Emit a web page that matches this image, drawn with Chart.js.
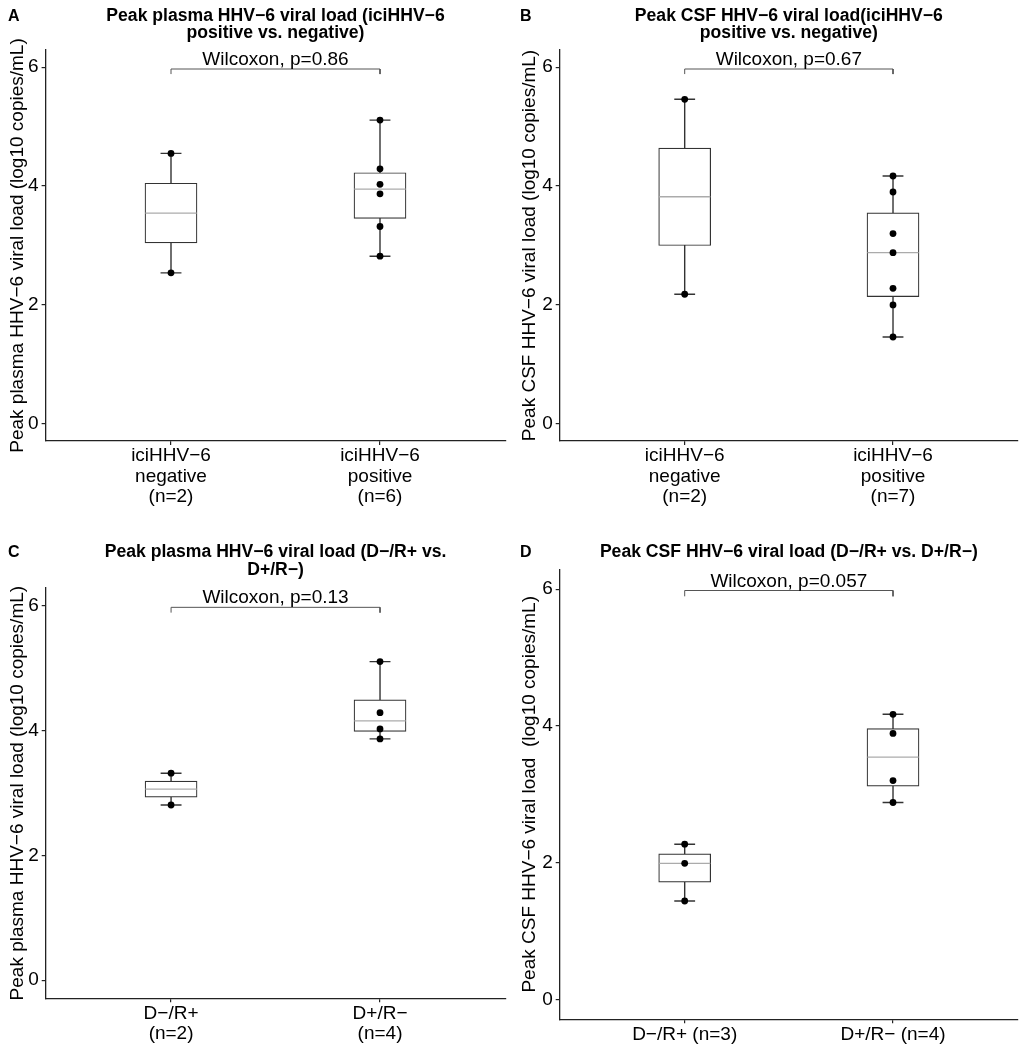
<!DOCTYPE html>
<html>
<head>
<meta charset="utf-8">
<script src="https://cdn.jsdelivr.net/npm/chart.js@4/dist/chart.umd.min.js"></script>
<style>
  html,body{margin:0;padding:0;background:#fff;}
  #wrap{position:relative;width:1024px;height:1050px;background:#fff;}
  canvas{position:absolute;}
</style>
</head>
<body>
<div id="wrap">
  <canvas id="cA" width="512" height="520" style="left:0;top:0"></canvas>
  <canvas id="cB" width="512" height="520" style="left:512px;top:0"></canvas>
  <canvas id="cC" width="512" height="530" style="left:0;top:520px"></canvas>
  <canvas id="cD" width="512" height="530" style="left:512px;top:520px"></canvas>
</div>
<script>
// ---------- DATA ----------
// Panel A: peak plasma viral load, iciHHV-6 negative vs positive
const catsA = [["iciHHV\u22126", "negative", "(n=2)"], ["iciHHV\u22126", "positive", "(n=6)"]];
const negPlasmaA = [4.55, 2.54];
const posPlasmaA = [5.11, 4.29, 4.03, 3.87, 3.32, 2.82];
const pLabelA = "Wilcoxon, p=0.86";

// Panel B: peak CSF viral load, iciHHV-6 negative vs positive
const catsB = [["iciHHV\u22126", "negative", "(n=2)"], ["iciHHV\u22126", "positive", "(n=7)"]];
const negCsfB = [5.46, 2.18];
const posCsfB = [4.17, 3.90, 3.20, 2.88, 2.28, 2.00, 1.46];
const pLabelB = "Wilcoxon, p=0.67";

// Panel C: peak plasma viral load, D-/R+ vs D+/R-
const catsC = [["D\u2212/R+", "(n=2)"], ["D+/R\u2212", "(n=4)"]];
const dnrpPlasmaC = [3.32, 2.81];
const dprnPlasmaC = [5.11, 4.29, 4.03, 3.87];
const pLabelC = "Wilcoxon, p=0.13";

// Panel D: peak CSF viral load, D-/R+ vs D+/R-
const catsD = [["D\u2212/R+ (n=3)"], ["D+/R\u2212 (n=4)"]];
const dnrpCsfD = [2.27, 1.99, 1.44];
const dprnCsfD = [4.17, 3.89, 3.20, 2.88];
const pLabelD = "Wilcoxon, p=0.057";

// significance bracket heights (log10 copies/mL)
const bracketY = [5.97, 5.97, 5.98, 5.98];
const yTicks = [0, 2, 4, 6];

// ---------- helpers ----------
const FAM = '"Liberation Sans", Arial, Helvetica, sans-serif';
function quant(sorted, p) {
  const h = (sorted.length - 1) * p, lo = Math.floor(h), hi = Math.ceil(h);
  return sorted[lo] + (h - lo) * (sorted[hi] - sorted[lo]);
}
function stats(vals) {
  const s = [...vals].sort((a, b) => a - b);
  const q1 = quant(s, 0.25), med = quant(s, 0.5), q3 = quant(s, 0.75);
  const iqr = q3 - q1;
  const lo = s.find(v => v >= q1 - 1.5 * iqr);
  const hi = [...s].reverse().find(v => v <= q3 + 1.5 * iqr);
  return { q1, med, q3, lo, hi };
}

const annot = {
  id: 'annot',
  afterDraw(chart, args, o) {
    const { ctx, chartArea: a, scales: { x, y } } = chart;
    ctx.save();
    ctx.fillStyle = '#000';
    ctx.textBaseline = 'alphabetic';
    ctx.font = 'bold 16px ' + FAM;
    ctx.textAlign = 'left';
    ctx.fillText(o.letter, 8, o.letterY);
    ctx.font = 'bold 17.6px ' + FAM;
    ctx.textAlign = 'center';
    const cx = (a.left + a.right) / 2;
    o.title.forEach((t, i) => ctx.fillText(t, cx, o.titleY[i]));
    ctx.font = '19px ' + FAM;
    ctx.fillText(o.pLabel, x.getPixelForValue(1.5), y.getPixelForValue(o.bracket) - 4);
    ctx.restore();
  }
};

function seg(x1, y1, x2, y2, color, width, order) {
  return {
    type: 'scatter', showLine: true, data: [{ x: x1, y: y1 }, { x: x2, y: y2 }],
    borderColor: color, borderWidth: width, pointRadius: 0, pointHoverRadius: 0,
    borderCapStyle: 'butt', order: order
  };
}

function makePanel(id, cfg) {
  const groups = cfg.groups;
  const st = groups.map(stats);
  const ds = [];
  // points
  ds.push({
    type: 'scatter', order: 0,
    data: groups.flatMap((g, i) => g.map(v => ({ x: i + 1, y: v }))),
    pointRadius: 3.4, pointBackgroundColor: '#000', pointBorderColor: '#000', pointBorderWidth: 0
  });
  // medians
  st.forEach((s, i) => ds.push(seg(i + 1 - 0.123, s.med, i + 1 + 0.123, s.med, '#ababab', 1.3, 1)));
  // boxes
  ds.push({
    type: 'bar', order: 2,
    data: st.map((s, i) => ({ x: i + 1, y: [s.q1, s.q3] })),
    barThickness: 52, backgroundColor: '#ffffff', borderColor: '#333333',
    borderWidth: 1.2, borderSkipped: false
  });
  // whiskers + caps
  st.forEach((s, i) => {
    ds.push(seg(i + 1, s.lo, i + 1, s.hi, '#333333', 1.4, 3));
    ds.push(seg(i + 1 - 0.05, s.hi, i + 1 + 0.05, s.hi, '#333333', 1.4, 3));
    ds.push(seg(i + 1 - 0.05, s.lo, i + 1 + 0.05, s.lo, '#333333', 1.4, 3));
  });
  // bracket
  const b = cfg.bracket, tip = 0.085;
  ds.push(seg(1, b - tip, 1, b, '#555555', 1, 3));
  ds.push(seg(1, b, 2, b, '#555555', 1, 3));
  ds.push(seg(2, b, 2, b - tip, '#555555', 1, 3));

  const cv = document.getElementById(id);
  const W = cv.width, H = cv.height;
  new Chart(cv, {
    type: 'scatter',
    data: { datasets: ds },
    plugins: [annot],
    options: {
      responsive: false, animation: false, devicePixelRatio: 1,
      layout: { padding: { left: 0, right: W - cfg.R, top: cfg.T, bottom: 0 } },
      plugins: {
        legend: { display: false }, tooltip: { enabled: false },
        annot: { letter: cfg.letter, letterY: cfg.letterY, title: cfg.title, titleY: cfg.titleY, pLabel: cfg.pLabel, bracket: b }
      },
      scales: {
        x: {
          type: 'linear', min: 0.4, max: 2.6, offset: false,
          afterBuildTicks: s => { s.ticks = [{ value: 1 }, { value: 2 }]; },
          afterFit: s => { s.height = H - cfg.B; },
          grid: { display: true, offset: false, drawOnChartArea: false, drawTicks: true, tickLength: 4, color: '#222', lineWidth: 1.2 },
          border: { display: true, color: '#222', width: 1.3 },
          ticks: {
            font: { size: 19, family: FAM, lineHeight: 1.07 }, color: '#000', padding: 1,
            maxRotation: 0, autoSkip: false,
            callback: v => cfg.cats[Math.round(v) - 1]
          }
        },
        y: {
          type: 'linear', min: -0.29, max: 6.29, offset: false, beginAtZero: false,
          afterBuildTicks: s => { s.ticks = yTicks.map(v => ({ value: v })); },
          afterFit: s => { s.width = cfg.L; },
          grid: { display: true, offset: false, drawOnChartArea: false, drawTicks: true, tickLength: 4, color: '#222', lineWidth: 1.2 },
          border: { display: true, color: '#222', width: 1.3 },
          ticks: { font: { size: 19, family: FAM }, color: '#000', padding: 3 },
          title: { display: true, text: cfg.ytitle, color: '#000', font: { size: 19, family: FAM }, padding: { top: 6, bottom: 0 } }
        }
      }
    }
  });
}

makePanel('cA', {
  groups: [negPlasmaA, posPlasmaA], cats: catsA, pLabel: pLabelA, bracket: bracketY[0],
  letter: 'A', letterY: 20.7,
  title: ["Peak plasma HHV\u22126 viral load (iciHHV\u22126", "positive vs. negative)"], titleY: [20.7, 38],
  ytitle: "Peak plasma HHV\u22126 viral load (log10 copies/mL)",
  L: 45.6, R: 505.4, T: 50, B: 441
});
makePanel('cB', {
  groups: [negCsfB, posCsfB], cats: catsB, pLabel: pLabelB, bracket: bracketY[1],
  letter: 'B', letterY: 20.7,
  title: ["Peak CSF HHV\u22126 viral load(iciHHV\u22126", "positive vs. negative)"], titleY: [20.7, 38],
  ytitle: "Peak CSF HHV\u22126 viral load (log10 copies/mL)",
  L: 47.7, R: 506, T: 50, B: 441
});
makePanel('cC', {
  groups: [dnrpPlasmaC, dprnPlasmaC], cats: catsC, pLabel: pLabelC, bracket: bracketY[2],
  letter: 'C', letterY: 36.7,
  title: ["Peak plasma HHV\u22126 viral load (D\u2212/R+ vs.", "D+/R\u2212)"], titleY: [36.7, 55],
  ytitle: "Peak plasma HHV\u22126 viral load (log10 copies/mL)",
  L: 45.7, R: 505.4, T: 68, B: 478.3
});
makePanel('cD', {
  groups: [dnrpCsfD, dprnCsfD], cats: catsD, pLabel: pLabelD, bracket: bracketY[3],
  letter: 'D', letterY: 36.7,
  title: ["Peak CSF HHV\u22126 viral load (D\u2212/R+ vs. D+/R\u2212)"], titleY: [36.7],
  ytitle: "Peak CSF HHV\u22126 viral load  (log10 copies/mL)",
  L: 47.7, R: 506, T: 49.3, B: 499.3
});
</script>
</body>
</html>
